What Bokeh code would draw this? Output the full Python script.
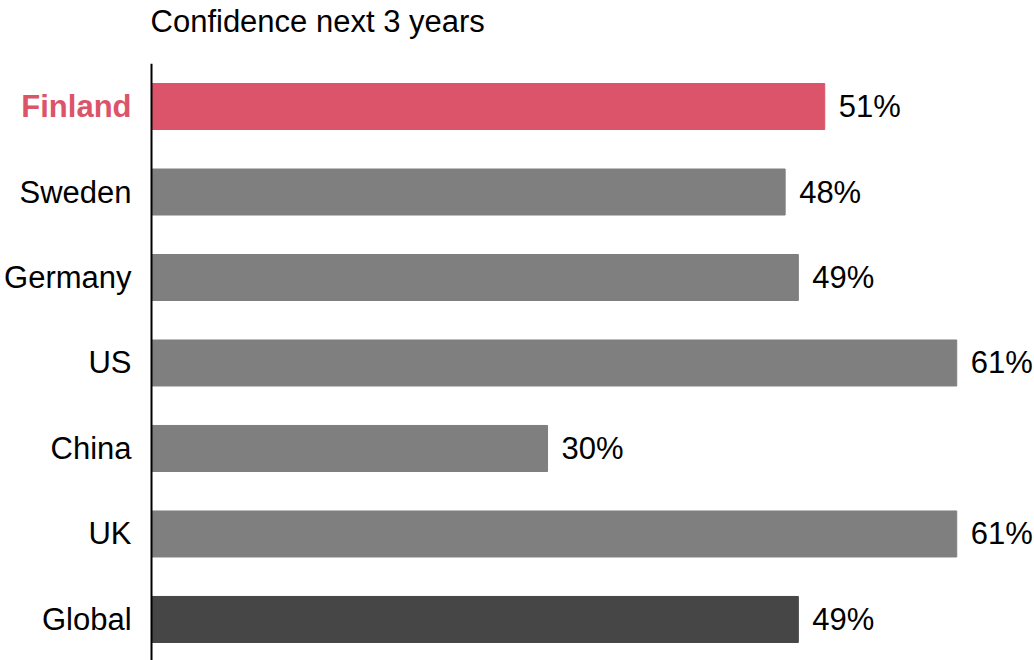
from bokeh.plotting import figure
from bokeh.models import ColumnDataSource, Range1d
from bokeh.core.properties import value
from bokeh.embed import file_html
from bokeh.resources import INLINE

countries = ["Finland", "Sweden", "Germany", "US", "China", "UK", "Global"]
values = [51, 48, 49, 61, 30, 61, 49]
value_labels = ["51%", "48%", "49%", "61%", "30%", "61%", "49%"]
bar_colors = ["#db546a", "#7f7f7f", "#7f7f7f", "#7f7f7f", "#7f7f7f", "#7f7f7f", "#464646"]
label_colors = ["#db546a", "#000000", "#000000", "#000000", "#000000", "#000000", "#000000"]
label_styles = ["bold", "normal", "normal", "normal", "normal", "normal", "normal"]
title_text = "Confidence next 3 years"

FONT = value("Liberation Sans")
FS = value("31px")

N = len(countries)
ypos = [N - 1 - i for i in range(N)]  # first category at top

src = ColumnDataSource(dict(
    country=countries, value=values, vlabel=value_labels, y=ypos,
    color=bar_colors, lcolor=label_colors, lstyle=label_styles,
    zero=[0] * N,
))

p = figure(
    width=1034, height=660,
    x_range=Range1d(-11.44, 66.89),
    y_range=Range1d(-0.48, 7.24),
    output_backend="svg", toolbar_location=None,
    x_axis_location=None, y_axis_location=None,
    min_border_left=0, min_border_right=0, min_border_top=0, min_border_bottom=0,
)

p.hbar(y="y", left="zero", right="value", height=0.538, color="color", source=src)

# axis line
p.segment(x0=[0], x1=[0], y0=[-0.48], y1=[N - 0.5], line_color="#000000", line_width=2)

# category labels
p.text(x="zero", y="y", text="country", source=src, x_offset=-20,
       text_align="right", text_baseline="middle",
       text_font=FONT, text_font_size=FS,
       text_color="lcolor", text_font_style="lstyle")

# value labels
p.text(x="value", y="y", text="vlabel", source=src, x_offset=14,
       text_align="left", text_baseline="middle",
       text_font=FONT, text_font_size=FS, text_color="#000000")

# title
p.text(x=[0], y=[N], text=[title_text], x_offset=-1,
       text_align="left", text_baseline="middle",
       text_font=FONT, text_font_size=FS, text_color="#000000")

p.grid.visible = False
p.outline_line_color = None
p.background_fill_color = "white"
p.border_fill_color = "white"

open("out.html", "w").write(file_html(p, INLINE))
